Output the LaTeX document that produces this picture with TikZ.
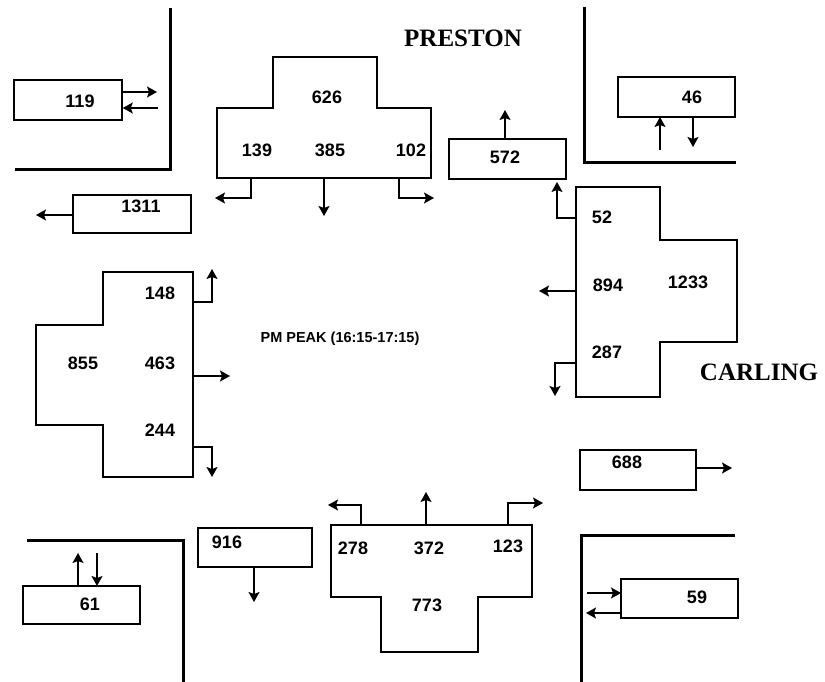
\documentclass[tikz,border=0pt]{standalone}
\usepackage{fontspec}
\setmainfont{Liberation Serif}
\newfontfamily\numfont{Liberation Sans}
\usetikzlibrary{arrows.meta}
\tikzset{
  box/.style={draw, line width=1.5pt, inner sep=0pt},
  appr/.style={draw, line width=1.5pt, line join=miter},
  curb/.style={draw, line width=3pt},
  num/.style={font=\numfont\bfseries\fontsize{18}{18}\selectfont, inner sep=0pt},
  street/.style={font=\bfseries\fontsize{25}{25}\selectfont, inner sep=0pt},
  arr/.style={-{Stealth[length=10pt,width=11pt,inset=2pt]}, line width=1.4pt},
}
\begin{document}
\begin{tikzpicture}[x=1pt,y=-1pt]
\useasboundingbox (0,0) rectangle (825,682);
% curbs
\draw[curb] (170,8) -- (170,170) -- (15,170);
\draw[curb] (584,7) -- (584,163) -- (736,163);
\draw[curb] (27,540) -- (183,540) -- (183,682);
\draw[curb] (581,682) -- (581,535) -- (735,535);
% street names
\node[street] (preston) at (463,38) {PRESTON};
\node[street] (carling) at (759,372) {CARLING};
\node[font=\numfont\bfseries\fontsize{14.5}{14.5}\selectfont, inner sep=0pt] (title) at (340,339) {PM PEAK (16:15-17:15)};

% north approach
\draw[appr] (273,57) -- (377,57) -- (377,108) -- (431,108) -- (431,178) -- (217,178) -- (217,108) -- (273,108) -- cycle;
\node[num] (n626) at (327,97) {626};
\node[num] (n139) at (257,150) {139};
\node[num] (n385) at (330,150) {385};
\node[num] (n102) at (411,150) {102};
\coordinate (nL) at (251,178); \coordinate (nLe) at (215,198);
\coordinate (nT) at (324,178); \coordinate (nTe) at (324,216);
\coordinate (nR) at (399,178); \coordinate (nRe) at (434,198);
\draw[arr] (nL) |- (nLe);
\draw[arr] (nT) -- (nTe);
\draw[arr] (nR) |- (nRe);

% east approach
\draw[appr] (576,187) -- (660,187) -- (660,240) -- (737,240) -- (737,342) -- (660,342) -- (660,397) -- (576,397) -- cycle;
\node[num] (n52) at (602,217) {52};
\node[num] (n894) at (608,285) {894};
\node[num] (n1233) at (688,282) {1233};
\node[num] (n287) at (607,352) {287};
\coordinate (eR) at (576,218); \coordinate (eRe) at (557,182);
\coordinate (eT) at (576,291); \coordinate (eTe) at (539,291);
\coordinate (eL) at (576,363); \coordinate (eLe) at (555,396);
\draw[arr] (eR) -| (eRe);
\draw[arr] (eT) -- (eTe);
\draw[arr] (eL) -| (eLe);

% west approach
\draw[appr] (103,272) -- (193,272) -- (193,477) -- (103,477) -- (103,425) -- (36,425) -- (36,325) -- (103,325) -- cycle;
\node[num] (n148) at (160,293) {148};
\node[num] (n855) at (83,363) {855};
\node[num] (n463) at (160,363) {463};
\node[num] (n244) at (160,430) {244};
\coordinate (wL) at (193,302); \coordinate (wLe) at (212,269);
\coordinate (wT) at (193,376); \coordinate (wTe) at (230,376);
\coordinate (wR) at (193,447); \coordinate (wRe) at (212,477);
\draw[arr] (wL) -| (wLe);
\draw[arr] (wT) -- (wTe);
\draw[arr] (wR) -| (wRe);

% south approach
\draw[appr] (331,525) -- (532,525) -- (532,597) -- (478,597) -- (478,652) -- (381,652) -- (381,597) -- (331,597) -- cycle;
\node[num] (n278) at (353,548) {278};
\node[num] (n372) at (429,548) {372};
\node[num] (n123) at (508,546) {123};
\node[num] (n773) at (427,605) {773};
\coordinate (sL) at (361,525); \coordinate (sLe) at (328,505);
\coordinate (sT) at (426,525); \coordinate (sTe) at (426,492);
\coordinate (sR) at (508,525); \coordinate (sRe) at (543,503);
\draw[arr] (sL) |- (sLe);
\draw[arr] (sT) -- (sTe);
\draw[arr] (sR) |- (sRe);

% exit / pedestrian boxes
\node[box, minimum width=108pt, minimum height=40pt] (b119) at (68,100) {};
\node[num] (t119) at (80,101) {119};
\draw[arr] (b119.east |- 0,92) -- (157,92);
\draw[arr] (158,108) -- (b119.east |- 0,108);

\node[box, minimum width=118pt, minimum height=38pt] (b1311) at (132,214) {};
\node[num] (t1311) at (141,206) {1311};
\draw[arr] (b1311.west |- 0,215) -- (36,215);

\node[box, minimum width=117pt, minimum height=40pt] (b572) at (507.5,159) {};
\node[num] (t572) at (505,157) {572};
\draw[arr] (505,139) -- (505,110);

\node[box, minimum width=117pt, minimum height=40pt] (b46) at (676.5,97) {};
\node[num] (t46) at (692,97) {46};
\draw[arr] (660,150) -- (660,117);
\draw[arr] (693,117) -- (693,147);

\node[box, minimum width=116pt, minimum height=40pt] (b688) at (638,470) {};
\node[num] (t688) at (627,462) {688};
\draw[arr] (b688.east |- 0,468) -- (732,468);

\node[box, minimum width=114pt, minimum height=39pt] (b916) at (255,547.5) {};
\node[num] (t916) at (227,542) {916};
\draw[arr] (254,567) -- (254,602);

\node[box, minimum width=117pt, minimum height=38pt] (b61) at (81.5,605) {};
\node[num] (t61) at (90,604) {61};
\draw[arr] (78,586) -- (78,553);
\draw[arr] (97,553) -- (97,586);

\node[box, minimum width=117pt, minimum height=39pt] (b59) at (679.5,598.5) {};
\node[num] (t59) at (697,597) {59};
\draw[arr] (587,593) -- (621,593);
\draw[arr] (621,613) -- (586,613);
\end{tikzpicture}
\end{document}
